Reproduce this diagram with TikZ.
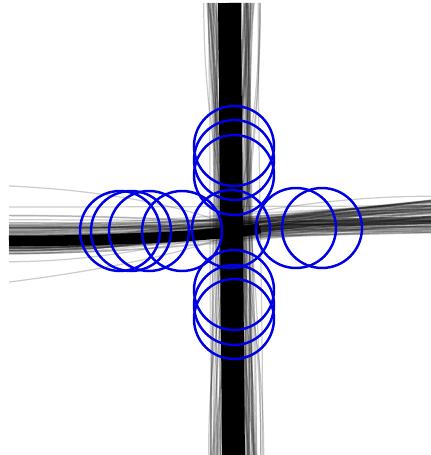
\documentclass[tikz,border=0pt]{standalone}
\begin{document}
\begin{tikzpicture}[x=0.02cm, y=-0.02cm,
  track/.style={black, opacity=0.16, line width=0.9pt},
  stray/.style={black, opacity=0.2, line width=0.7pt},
  core/.style={black, line cap=butt},
  detector/.style={draw=blue!90!black, line width=1.4pt}]
\useasboundingbox (0,0) rectangle (431,455);
\pgfmathsetseed{11}
% vertical bundle of tracks
\foreach \i in {1,...,80}{
  \pgfmathsetmacro{\xa}{231+24*rand}
  \pgfmathsetmacro{\xb}{235+24*rand}
  \pgfmathsetmacro{\xm}{0.5*(\xa+\xb)+5*rand}
  \draw[track] (\xa,3) .. controls (\xm,150) and (\xm,300) .. (\xb,455);
}
\foreach \i in {1,...,25}{
  \pgfmathsetmacro{\xa}{232+29*rand}
  \pgfmathsetmacro{\xb}{236+29*rand}
  \draw[stray] (\xa,3) .. controls (\xa,200) and (\xb,260) .. (\xb,455);
}
\draw[core, line width=13pt] (229.5,3) -- (233.5,455);
% horizontal bundle of tracks
\foreach \i in {1,...,70}{
  \pgfmathsetmacro{\ya}{239+15*rand}
  \pgfmathsetmacro{\yb}{216+17*rand}
  \pgfmathsetmacro{\ym}{0.5*(\ya+\yb)+6*rand}
  \draw[track] (9,\ya) .. controls (150,\ya) and (230,\ym) .. (431,\yb);
}
\foreach \i in {1,...,14}{
  \pgfmathsetmacro{\ya}{236+30*rand}
  \pgfmathsetmacro{\yb}{214+20*rand}
  \draw[stray] (9,\ya) .. controls (160,\ya) and (260,\yb) .. (431,\yb);
}
\draw[stray] (9,186) .. controls (100,190) and (180,205) .. (230,225);
\draw[stray] (9,282) .. controls (90,272) and (180,255) .. (230,235);
\draw[core, line width=6pt] (9,241) .. controls (150,241) and (250,232) .. (260,228);
\draw[core, opacity=0.55, line width=4.5pt] (250,230) .. controls (300,223) .. (431,220);
% detector circles
\foreach \y in {146,160,175}
  \draw[detector] (234,\y) circle (40);
\foreach \y in {290,305,319}
  \draw[detector] (234,\y) circle (40);
\foreach \x in {120,131,149,182}
  \draw[detector] (\x,231) circle (40);
\draw[detector] (231,229) circle (39);
\foreach \x in {296,322}
  \draw[detector] (\x,228) circle (40);
\end{tikzpicture}
\end{document}
